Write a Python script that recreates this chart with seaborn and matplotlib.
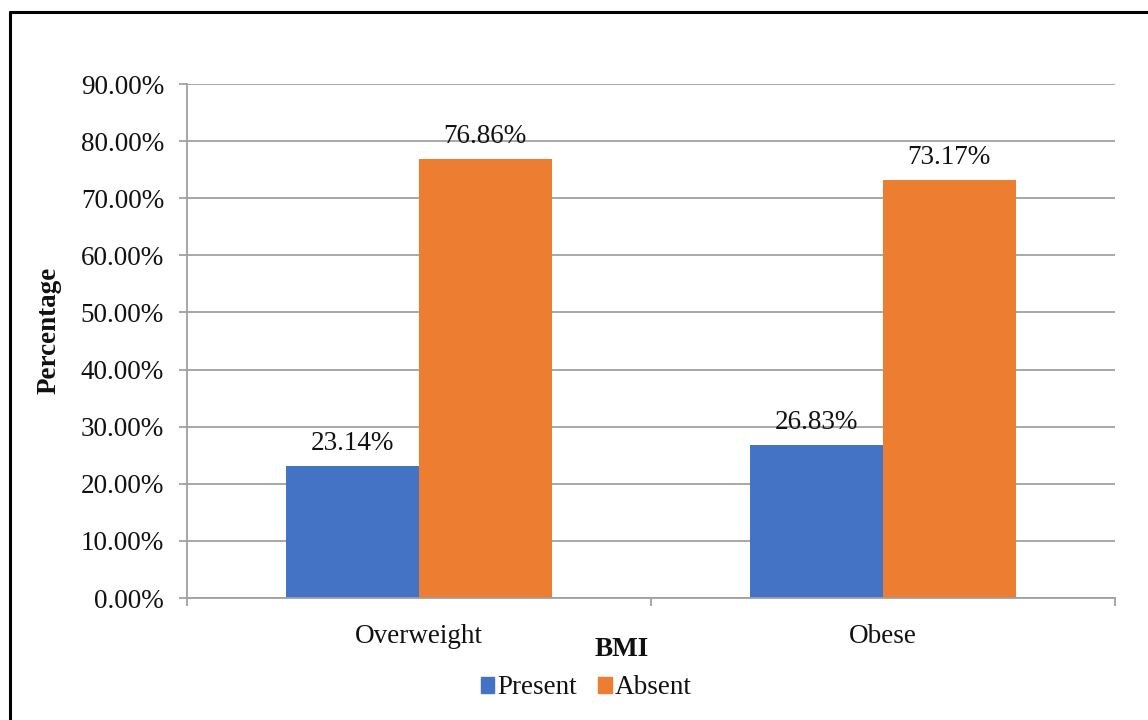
import matplotlib
matplotlib.use("Agg")
import matplotlib.pyplot as plt
from matplotlib.lines import Line2D
import seaborn as sns
import pandas as pd

# BMI groups and share of respondents per status
categories = ["Overweight", "Obese"]
present = [23.14, 26.83]
absent = [76.86, 73.17]
series_names = ["Present", "Absent"]
y_ticks = [0, 10, 20, 30, 40, 50, 60, 70, 80, 90]

df = pd.DataFrame({
    "BMI": categories * 2,
    "Status": [series_names[0]] * len(categories) + [series_names[1]] * len(categories),
    "Percentage": present + absent,
})

sns.set_theme(style="white")
plt.rcParams["font.family"] = ["Liberation Serif", "DejaVu Serif"]

FS = 19.5

fig = plt.figure(figsize=(11.48, 7.2), dpi=100)
ax = fig.add_axes([187 / 1148, 1 - 598 / 720, 928 / 1148, 514 / 720])

palette = {"Present": "#4472C4", "Absent": "#ED7D31"}
sns.barplot(data=df, x="BMI", y="Percentage", hue="Status", hue_order=series_names,
            order=categories, palette=palette, width=0.572, gap=0, saturation=1,
            linewidth=0, ax=ax, legend=False)

for cont in ax.containers:
    ax.bar_label(cont, labels=[f"{v:.2f}%" for v in cont.datavalues],
                 padding=7, fontsize=FS, color="#111111")

ax.set_ylim(0, 90)
ax.set_xlim(-0.5, 1.5)
ax.set_yticks(y_ticks)
ax.set_yticklabels([f"{t:.2f}%" for t in y_ticks], fontsize=FS, color="#111111")
ax.set_xticks([0, 1])
ax.set_xticklabels(categories, fontsize=FS, color="#111111")

# horizontal gridlines behind the bars
ax.set_axisbelow(True)
ax.yaxis.grid(True, color="#a0a0a0", linewidth=1.3)
ax.xaxis.grid(False)

for side in ["top", "right"]:
    ax.spines[side].set_visible(False)
for side in ["left", "bottom"]:
    ax.spines[side].set_color("#a0a0a0")
    ax.spines[side].set_linewidth(1.3)

ax.tick_params(axis="y", which="major", left=True, length=5.5, width=1.3,
               color="#a0a0a0", pad=11)
ax.tick_params(axis="x", which="major", bottom=False, pad=13)
# category boundary ticks on the x axis
ax.set_xticks([-0.5, 0.5, 1.5], minor=True)
ax.tick_params(axis="x", which="minor", bottom=True, length=6, width=1.3,
               color="#a0a0a0")

ax.set_xlabel("BMI", fontsize=FS, fontweight="bold", color="#111111")
ax.xaxis.set_label_coords(0.468, -0.076)
ax.set_ylabel("Percentage", fontsize=FS, fontweight="bold", color="#111111")
ax.yaxis.set_label_coords(-0.135, 0.52)

handles = [plt.Rectangle((0, 0), 1, 1, color=palette[s]) for s in series_names]
fig.legend(handles, series_names, loc="center", ncol=2, frameon=False,
           bbox_to_anchor=(586 / 1148, 1 - 688 / 720), fontsize=FS,
           handlelength=0.5, handleheight=0.5, handletextpad=0.1,
           columnspacing=0.8, labelcolor="#111111")

# outer chart frame
fig.add_artist(Line2D([10 / 1148, 10 / 1148], [0, 1 - 12 / 720],
                      transform=fig.transFigure, color="black", linewidth=2.2))
fig.add_artist(Line2D([10 / 1148, 1], [1 - 12 / 720, 1 - 12 / 720],
                      transform=fig.transFigure, color="black", linewidth=2.2))

fig.savefig("out.png", dpi=100, facecolor="white")
